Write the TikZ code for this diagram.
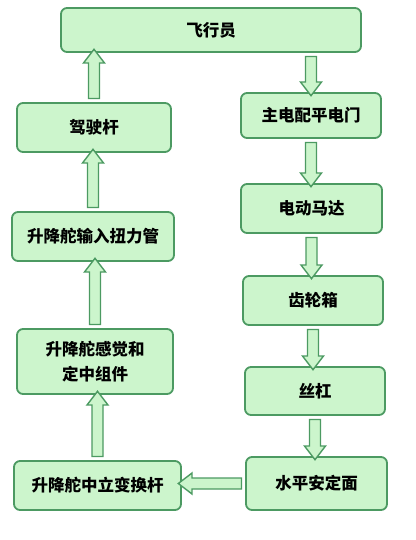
\documentclass[tikz,border=0pt]{standalone}
\usepackage{fontspec}
\newfontfamily\cjk{Noto Sans CJK SC}
\usetikzlibrary{shapes.arrows, calc}
\definecolor{boxgreen}{RGB}{204,245,204}
\definecolor{edgegreen}{RGB}{76,154,98}
\tikzset{
block/.style={draw=edgegreen, fill=boxgreen, line width=1.8pt, rounded corners=6pt, font=\cjk\bfseries\fontsize{16.5}{25}\selectfont, align=center, inner sep=0pt},
fatarrow/.style={single arrow, draw=edgegreen, fill=boxgreen, line width=1.4pt, inner xsep=0pt, inner ysep=4.8pt, single arrow head extend=5pt, single arrow tip angle=75, sloped, allow upside down, midway}
}
% hollow block arrow from #1 to #2
\newcommand{\fatlink}[2]{\path let \p1=($(#2)-(#1)$), \n1={veclen(\x1,\y1)} in (#1) -- (#2) node[fatarrow, minimum height=\n1] {};}

\begin{document}
\begin{tikzpicture}[x=1pt,y=1pt]
\useasboundingbox (0,0) rectangle (415,-540);
%left column
\node[block, minimum width=300, minimum height=44] (pilot) at (211,-30) {飞行员};
\node[block, minimum width=154, minimum height=49] (stick) at (94,-127.5) {驾驶杆};
\node[block, minimum width=162, minimum height=49] (tube) at (93,-236.5) {升降舵输入扭力管};
\node[block, minimum width=156, minimum height=65] (feel) at (95,-361.5) {升降舵感觉和\\定中组件};
\node[block, minimum width=167, minimum height=49] (neutral) at (97.5,-485.5) {升降舵中立变换杆};
%right column
\node[block, minimum width=140, minimum height=45] (switch) at (311,-115.5) {主电配平电门};
\node[block, minimum width=141, minimum height=49] (motor) at (311.5,-208.5) {电动马达};
\node[block, minimum width=140, minimum height=49] (gearbox) at (313,-300.5) {齿轮箱};
\node[block, minimum width=140, minimum height=48] (screw) at (315,-391) {丝杠};
\node[block, minimum width=141, minimum height=53] (stab) at (316.5,-483.5) {水平安定面};

\fatlink{switch.north |- pilot.south}{switch.north}
\fatlink{switch.south}{switch.south |- motor.north}
\fatlink{motor.south}{motor.south |- gearbox.north}
\fatlink{gearbox.south}{gearbox.south |- screw.north}
\fatlink{screw.south}{screw.south |- stab.north}
\fatlink{stab.west}{stab.west -| neutral.east}
\fatlink{neutral.north}{neutral.north |- feel.south}
\fatlink{feel.north}{feel.north |- tube.south}
\fatlink{tube.north}{tube.north |- stick.south}
\fatlink{stick.north}{stick.north |- pilot.south}
\end{tikzpicture}
\end{document}
